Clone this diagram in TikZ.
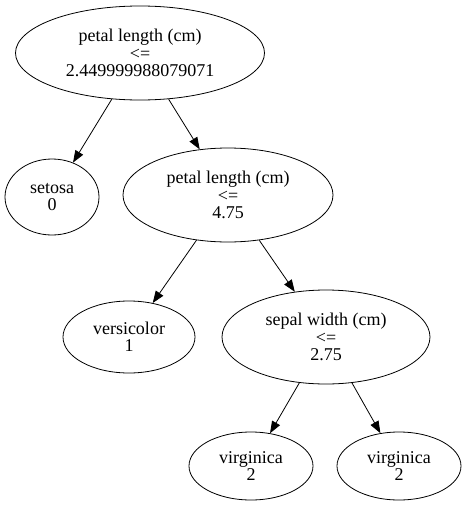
\documentclass[tikz,border=0pt]{standalone}
\usepackage{fontspec}
\setmainfont{Liberation Serif}
\usetikzlibrary{shapes.geometric,arrows.meta}
\begin{document}
\begin{tikzpicture}[x=1pt, y=-1pt,
    tree node/.style={draw, ellipse, inner sep=0pt, line width=0.8pt, align=center,
      font=\fontsize{18}{17.5}\selectfont},
    split/.style={tree node, minimum width=210pt, minimum height=94pt},
    leaf/.style={tree node, minimum width=124pt, minimum height=70pt},
    edge/.style={-{Triangle[length=12pt,width=9pt]}, line width=0.8pt}]
  \useasboundingbox (0,0) rectangle (467,506);
  % Split nodes
  \node[split, minimum width=249pt] (root) at (140,53) {petal length (cm)\\<=\\2.449999988079071};
  \node[split] (petal) at (228,195) {petal length (cm)\\<=\\4.75};
  \node[split, minimum width=208pt] (sepal) at (326,337) {sepal width (cm)\\<=\\2.75};
  % Leaves
  \node[leaf, minimum width=94pt, minimum height=76pt] (setosa) at (52,197) {setosa\\0};
  \node[leaf, minimum width=132pt, minimum height=72pt] (versicolor) at (129,337) {versicolor\\1};
  \node[leaf, minimum height=68pt] (virginicaA) at (251,466) {virginica\\2};
  \node[leaf, minimum height=68pt] (virginicaB) at (399,466) {virginica\\2};
  % Edges
  \draw[edge] (root) -- (setosa);
  \draw[edge] (root) -- (petal);
  \draw[edge] (petal) -- (versicolor);
  \draw[edge] (petal) -- (sepal);
  \draw[edge] (sepal) -- (virginicaA);
  \draw[edge] (sepal) -- (virginicaB);
\end{tikzpicture}
\end{document}
